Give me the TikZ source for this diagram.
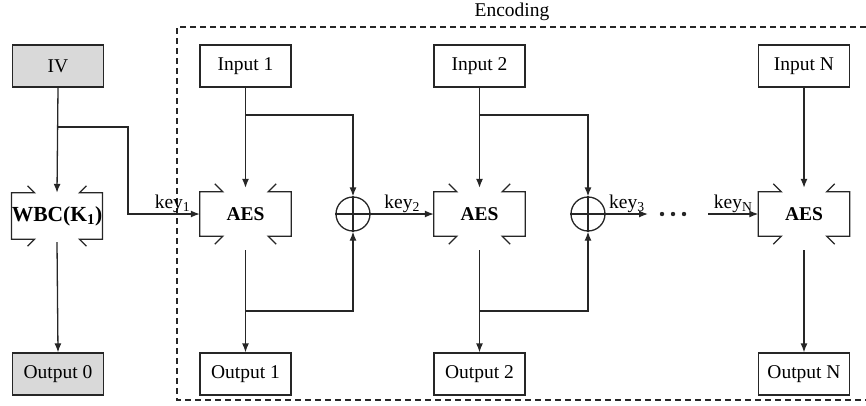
\documentclass[tikz,border=0pt]{standalone}
\usepackage{fontspec}
\setmainfont{Liberation Serif}
\usetikzlibrary{arrows.meta}
\begin{document}
\begin{tikzpicture}[x=1pt,y=-1pt,
  lw/.style={line width=1.3pt, draw=black!85},
  txt/.style={font=\fontsize{19.5}{23}\selectfont},
  box/.style={txt, draw=black!85, line width=1.3pt, minimum width=91pt, minimum height=42pt, inner sep=0pt},
  gbox/.style={box, fill=gray!30},
  wb/.style={txt, font=\fontsize{19.5}{23}\selectfont\bfseries, minimum width=91pt, minimum height=44pt, inner sep=0pt},
  xor/.style={circle, draw=black!85, line width=1.3pt, minimum size=34pt, inner sep=0pt},
  arr/.style={lw, -{Latex[length=9pt,width=7pt]}},
  lbl/.style={txt, inner sep=1pt},
]
\useasboundingbox (0,0) rectangle (866,405);

% dashed encoding frame
\draw[lw, dash pattern=on 6pt off 4pt] (866,27) -- (177,27) -- (177,400) -- (866,400);
\node[lbl] (enc) at (512,12) {Encoding};

% left column
\node[gbox] (iv) at (58,66) {IV};
\node[gbox] (out0) at (58,374) {Output 0};
\node[wb, font=\fontsize{21.5}{25}\selectfont\bfseries, minimum width=90pt, minimum height=46pt] (wbc) at (57,216) {WBC(K\textsubscript{1})};

% inputs, AES, outputs
\node[box] (in1) at (245.5,66) {Input 1};
\node[box] (in2) at (479.5,66) {Input 2};
\node[box] (inN) at (804,66) {Input N};
\node[wb] (aes1) at (245.5,214) {AES};
\node[wb] (aes2) at (479.5,214) {AES};
\node[wb] (aes3) at (804,214) {AES};
\node[box] (out1) at (245.5,374) {Output 1};
\node[box] (out2) at (479.5,374) {Output 2};
\node[box] (outN) at (804,374) {Output N};

% xor gates
\node[xor] (x1) at (353,214) {};
\node[xor] (x2) at (588,214) {};
\foreach \x in {x1,x2} {
  \draw[lw] (\x.north) -- (\x.south) (\x.west) -- (\x.east);
}

% white-box brackets
\foreach \n/\a/\t in {wbc/23/7, aes1/23/8, aes2/23/8, aes3/23/8} {
  \draw[lw] ([xshift=\a]\n.north west) +(-\t,-\t) -- ([xshift=\a]\n.north west) -- (\n.north west) -- (\n.south west) -- ([xshift=\a]\n.south west) -- +(-\t,\t);
  \draw[lw] ([xshift=-\a]\n.north east) +(\t,-\t) -- ([xshift=-\a]\n.north east) -- (\n.north east) -- (\n.south east) -- ([xshift=-\a]\n.south east) -- +(\t,\t);
}

% IV path
\coordinate (b0) at (58,127);
\coordinate (k1) at (128,127);
\draw[arr] (iv.south) -- (wbc.north);
\draw[arr] (b0) -- (k1) |- (aes1.west) node[lbl, pos=0.81, above] {key\textsubscript{1}};
\draw[arr] ([yshift=-3pt]wbc.south) -- (out0.north);

% stage 1
\coordinate (b1) at (245.5,115);
\coordinate (c1) at (245.5,311);
\draw[arr] (in1.south) -- ([yshift=4pt]aes1.north);
\draw[arr] (b1) -| (x1.north);
\draw[arr] ([yshift=-14pt]aes1.south) -- (out1.north);
\draw[arr] (c1) -| (x1.south);
\draw[arr] (x1.east) -- (aes2.west) node[lbl, midway, above] {key\textsubscript{2}};

% stage 2
\coordinate (b2) at (479.5,115);
\coordinate (c2) at (479.5,311);
\draw[arr] (in2.south) -- ([yshift=4pt]aes2.north);
\draw[arr] (b2) -| (x2.north);
\draw[arr] ([yshift=-14pt]aes2.south) -- (out2.north);
\draw[arr] (c2) -| (x2.south);
\coordinate (k3e) at (648,214);
\draw[arr] (x2.east) -- (k3e) node[lbl, midway, above] {key\textsubscript{3}};

% dots
\foreach \d in {662,673,684} { \fill[black!85] (\d,214) circle (2.2pt); }

% stage N
\coordinate (kNs) at (708,214);
\draw[arr] (kNs) -- (aes3.west) node[lbl, midway, above] {key\textsubscript{N}};
\draw[arr] (inN.south) -- ([yshift=4pt]aes3.north);
\draw[arr] ([yshift=-14pt]aes3.south) -- (outN.north);
\end{tikzpicture}
\end{document}
